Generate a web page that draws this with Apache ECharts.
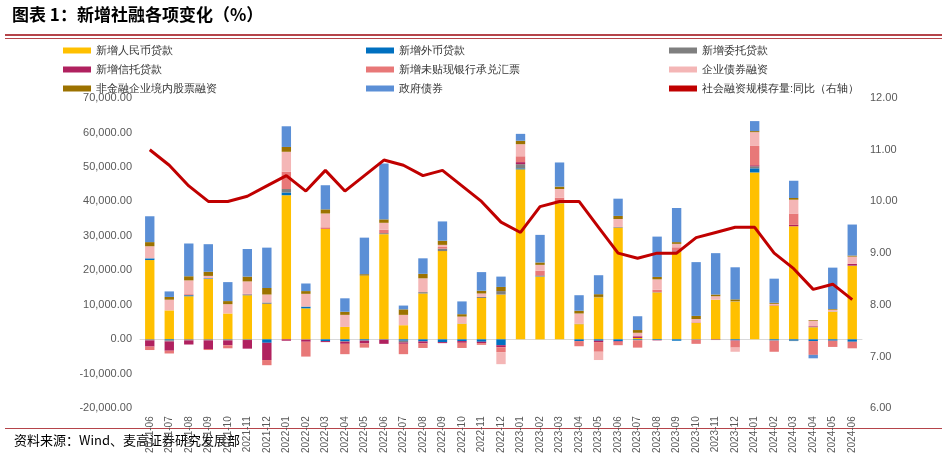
<!DOCTYPE html>
<html>
<head>
<meta charset="utf-8">
<script src="https://cdn.jsdelivr.net/npm/echarts@6/dist/echarts.min.js"></script>
<style>body{margin:0;background:#fff}#main{width:947px;height:456px}</style>
</head>
<body>
<div id="main"></div>
<script>
var months = ['2021-06','2021-07','2021-08','2021-09','2021-10','2021-11','2021-12',
  '2022-01','2022-02','2022-03','2022-04','2022-05','2022-06','2022-07','2022-08','2022-09','2022-10','2022-11','2022-12',
  '2023-01','2023-02','2023-03','2023-04','2023-05','2023-06','2023-07','2023-08','2023-09','2023-10','2023-11','2023-12',
  '2024-01','2024-02','2024-03','2024-04','2024-05','2024-06'];
var rmbLoan  = [23000,8400,12500,17500,7500,12800,10300,41800,9000,32000,3600,18500,30500,4100,13300,25600,4500,12000,13000,49300,18200,39500,4400,12200,32400,400,13600,25400,4800,11500,11000,48400,9800,32800,3500,8000,21300];
var fxLoan   = [500,-300,300,200,-100,200,-1000,800,500,-500,-500,-300,-100,-400,-600,-800,-500,-700,-1700,300,100,100,-500,-400,-500,-200,-200,-400,-100,0,-300,1200,-300,-400,-500,-400,-700];
var entrust  = [-300,-300,-300,-300,-200,-200,400,1000,-100,0,-200,-100,300,-500,400,700,100,300,1000,1200,200,400,100,100,200,-100,100,100,0,-100,100,600,-100,-100,100,100,100];
var trust    = [-1800,-2700,-1200,-2500,-1400,-2500,-5000,-400,-600,-300,-600,-800,-1200,-400,-600,-300,-500,-400,-600,600,100,100,0,-400,-200,500,-100,300,100,-100,-100,300,100,400,200,0,500];
var bills    = [-1000,-800,300,-300,-900,200,-1500,5000,-4300,500,-3000,-1200,1000,-3000,-1300,500,-1500,-500,-1400,1700,1300,1000,-1500,-2800,-1000,-2100,700,900,-1200,0,-2000,5600,-3200,3300,-4000,-1800,-1900];
var bonds    = [3500,3100,4000,700,2700,3600,2300,5800,3700,4000,3500,0,2000,3000,4000,600,2000,1000,-3500,3500,1700,2500,3000,-2400,2300,1000,3000,1000,1000,1000,-1200,4000,400,4000,1600,500,2100];
var equity   = [1200,800,1200,1200,900,1400,1900,1400,800,1200,900,400,1000,1600,1300,1200,700,800,1200,1000,700,700,800,800,900,800,700,500,900,500,500,300,300,500,200,200,300];
var govBonds = [7500,1600,9500,8000,5500,8000,11700,6000,2200,7000,3900,10600,16200,1100,4500,5600,3700,5400,3000,2000,8000,7000,4500,5500,5000,4000,11700,9900,15600,12000,9300,2900,7000,5000,-1000,12000,9000];
var tsfYoy   = [11.0,10.7,10.3,10.0,10.0,10.1,10.3,10.5,10.2,10.6,10.2,10.5,10.8,10.7,10.5,10.6,10.3,10.0,9.6,9.4,9.9,10.0,10.0,9.5,9.0,8.9,9.0,9.0,9.3,9.4,9.5,9.5,9.0,8.7,8.3,8.4,8.1];

var barNames = ['新增人民币贷款','新增外币贷款','新增委托贷款','新增信托贷款','新增未贴现银行承兑汇票','企业债券融资','非金融企业境内股票融资','政府债券'];
var barData = [rmbLoan, fxLoan, entrust, trust, bills, bonds, equity, govBonds];
var colors = ['#FFC000','#0070C0','#7F7F7F','#B0215F','#E87878','#F4B6B6','#9C7200','#5B8FD6'];
var lineName = '社会融资规模存量:同比（右轴）';

var series = barNames.map(function (n, i) {
  return {name: n, type: 'bar', stack: 'tsf', data: barData[i], barWidth: '48%',
    itemStyle: {color: colors[i]}};
});
series.push({name: lineName, type: 'line', yAxisIndex: 1, data: tsfYoy, symbol: 'none',
  lineStyle: {color: '#C00000', width: 3}, itemStyle: {color: '#C00000'}});

// one legend per slot so the columns line up
var allNames = barNames.concat([lineName]);
var legends = allNames.map(function (n, i) {
  return {data: [n], left: 58 + (i % 3) * 303, top: 40 + Math.floor(i / 3) * 19,
    itemWidth: 28, itemHeight: 6, textStyle: {fontSize: 11, color: '#333'},
    icon: 'rect', selectedMode: false};
});

var myChart = echarts.init(document.getElementById('main'));
myChart.setOption({
  animation: false,
  graphic: [
    {type: 'text', left: 12, top: 6, style: {text: '图表 1：新增社融各项变化（%）', font: 'bold 17px "Noto Sans CJK SC"', fill: '#000'}},
    {type: 'rect', shape: {x: 5, y: 34, width: 937, height: 2}, style: {fill: '#B5444A'}},
    {type: 'rect', shape: {x: 5, y: 38, width: 937, height: 1}, style: {fill: '#B5444A'}},
    {type: 'rect', shape: {x: 5, y: 428, width: 937, height: 1}, style: {fill: '#B5444A'}},
    {type: 'text', left: 14, top: 434, style: {text: '资料来源：Wind、麦高证券研究发展部', font: '13px "Noto Sans CJK SC"', fill: '#000'}}
  ],
  legend: legends,
  grid: {left: 140, right: 85, top: 98, bottom: 36},
  xAxis: {type: 'category', data: months,
    axisLine: {onZero: true, onZeroAxisIndex: 0, lineStyle: {color: '#D9D9D9'}}, axisTick: {show: false},
    axisLabel: {rotate: 90, interval: 0, fontSize: 10, color: '#595959'}},
  yAxis: [
    {type: 'value', min: -20000, max: 70000, interval: 10000, splitLine: {show: false},
      axisLabel: {fontSize: 11, color: '#595959', formatter: function (v) {
        return v.toLocaleString('en-US', {minimumFractionDigits: 2, maximumFractionDigits: 2});
      }}},
    {type: 'value', min: 6, max: 12, interval: 1, splitLine: {show: false},
      axisLabel: {fontSize: 11, color: '#595959', formatter: function (v) { return v.toFixed(2); }}}
  ],
  series: series
});
</script>
</body>
</html>
